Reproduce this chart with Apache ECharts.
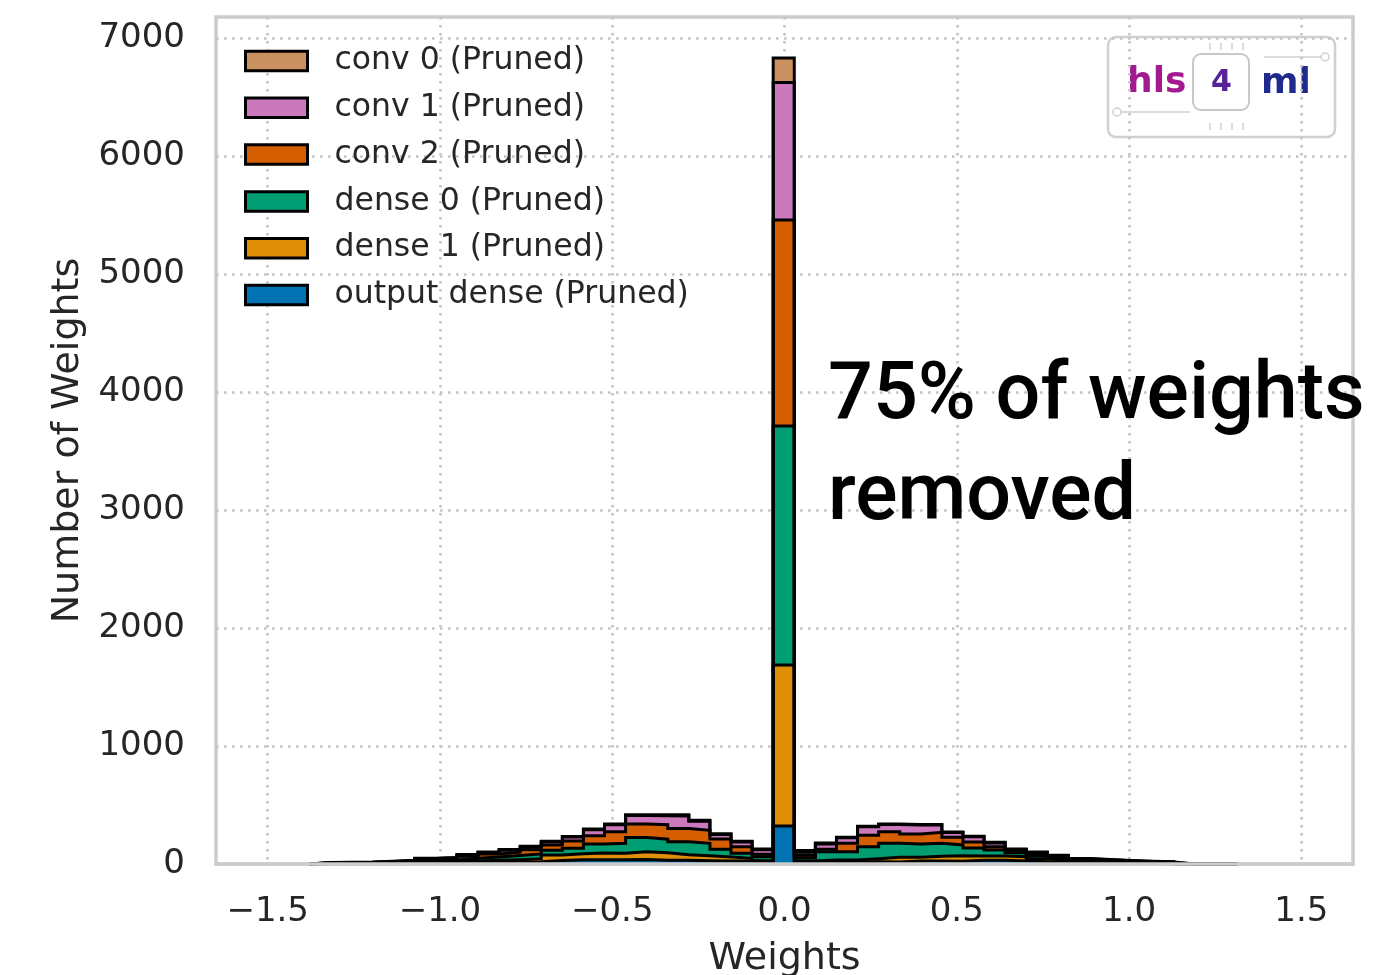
<!DOCTYPE html>
<html>
<head>
<meta charset="utf-8">
<script src="https://cdn.jsdelivr.net/npm/echarts@6/dist/echarts.min.js"></script>
<style>
html,body{margin:0;padding:0;background:#ffffff;}
#chart{width:1388px;height:975px;}
</style>
</head>
<body>
<div id="chart"></div>
<script>
// ---- data ----
const binEdges = [-1.3792, -1.3180, -1.2568, -1.1956, -1.1344, -1.0732, -1.0120, -0.9508, -0.8896, -0.8284,
  -0.7672, -0.7060, -0.6448, -0.5836, -0.5224, -0.4612, -0.4000, -0.3388, -0.2776, -0.2164,
  -0.1552, -0.0940, -0.0328, 0.0284, 0.0896, 0.1508, 0.2120, 0.2732, 0.3344, 0.3956,
  0.4568, 0.5180, 0.5792, 0.6404, 0.7016, 0.7628, 0.8240, 0.8852, 0.9464, 1.0076,
  1.0688, 1.1300, 1.1912, 1.2524, 1.3136];

const outputDense = [2,2,2,3,4,6,7,10,12,15,20,30,35,35,35,38,31,31,28,25,25,18,
  322,
  12,15,15,20,17,25,25,23,31,31,25,20,15,8,6,5,4,3,0,0,0];
const dense1 = [3,3,4,5,6,10,11,16,20,22,25,46,52,58,56,65,64,48,42,34,23,10,
  1364,
  13,19,19,25,40,32,40,47,37,37,37,25,15,10,8,6,5,4,0,1,0];
const dense0 = [3,4,4,6,8,13,15,22,28,35,40,40,46,76,84,121,115,109,105,65,43,34,
  2026,
  25,70,70,102,118,112,110,91,68,51,34,25,18,12,10,8,6,5,0,0,1];
const conv2 = [2,3,3,5,7,11,12,18,24,28,35,45,62,71,99,114,123,112,110,88,56,20,
  1746,
  25,21,71,96,99,85,93,65,50,28,14,15,12,8,7,5,4,4,0,1,0];
const conv1 = [1,1,2,3,4,6,7,10,13,16,22,25,33,50,58,72,75,106,77,38,39,38,
  1165,
  25,45,47,72,60,76,62,40,44,31,12,12,10,6,5,4,3,2,0,0,0];
const conv0 = [1,1,1,1,2,2,3,4,5,6,8,6,6,6,8,8,10,12,8,7,6,7,
  208,
  14,8,5,5,5,5,5,5,5,7,5,5,5,3,2,2,2,2,0,0,0];

const layerNames = ['output dense (Pruned)', 'dense 1 (Pruned)', 'dense 0 (Pruned)',
  'conv 2 (Pruned)', 'conv 1 (Pruned)', 'conv 0 (Pruned)'];
const xTickValues = [-1.5, -1.0, -0.5, 0.0, 0.5, 1.0, 1.5];
const yTickValues = [0, 1000, 2000, 3000, 4000, 5000, 6000, 7000];

// ---- styling ----
const layerColors = ['#0173b2', '#de8f05', '#029e73', '#d55e00', '#cc78bc', '#ca9161'];
const textColor = '#262626';
const gridLine = {color: '#c4c4c4', width: 2.6, type: [2.6, 5.4]};

const layers = [outputDense, dense1, dense0, conv2, conv1, conv0];
// stack cumulatively (bottom layer first)
const cum = [];
layers.forEach((arr, k) => {
  cum.push(arr.map((v, j) => v + (k ? cum[k - 1][j] : 0)));
});

const series = [];
for (let k = layers.length - 1; k >= 0; k--) {
  const pts = [[binEdges[0], 0]];
  cum[k].forEach((v, j) => pts.push([binEdges[j], v]));
  pts.push([binEdges[binEdges.length - 1], 0]);
  series.push({
    type: 'line',
    name: layerNames[k],
    step: 'end',
    data: pts,
    symbol: 'none',
    showSymbol: false,
    silent: true,
    animation: false,
    lineStyle: {color: '#000000', width: 3, join: 'miter'},
    areaStyle: {color: layerColors[k], opacity: 1},
    itemStyle: {color: layerColors[k]},
    z: 2
  });
}

const legendData = [];
for (let k = layers.length - 1; k >= 0; k--) {
  legendData.push({name: layerNames[k], itemStyle: {color: layerColors[k], borderColor: '#000000', borderWidth: 3}});
}

const fmtX = v => (v < 0 ? '\u2212' + Math.abs(v).toFixed(1) : v.toFixed(1));
const fmtY = v => String(Math.round(v));

const chart = echarts.init(document.getElementById('chart'), null, {renderer: 'canvas'});
chart.setOption({
  animation: false,
  backgroundColor: '#ffffff',
  textStyle: {fontFamily: 'DejaVu Sans'},
  grid: {left: 216, right: 35, top: 17, bottom: 111, show: true, borderColor: '#cccccc', borderWidth: 3.5,
    containLabel: false, outerBoundsMode: 'none'},
  legend: {
    orient: 'vertical', left: 239, top: 38, icon: 'rect',
    itemWidth: 62, itemHeight: 19.5, itemGap: 10.8,
    selectedMode: false,
    textStyle: {fontFamily: 'DejaVu Sans', fontSize: 31.5, color: textColor, lineHeight: 36, padding: [0, 0, 0, 22]},
    data: legendData
  },
  xAxis: [{
    type: 'value', min: -1.65, max: 1.65,
    name: 'Weights', nameLocation: 'middle', nameGap: 76,
    nameTextStyle: {fontFamily: 'DejaVu Sans', fontSize: 38, color: textColor},
    axisLine: {show: false},
    axisTick: {show: false, customValues: xTickValues},
    axisLabel: {customValues: xTickValues, formatter: fmtX, fontFamily: 'DejaVu Sans', fontSize: 34, color: textColor, margin: 31},
    splitLine: {show: true, lineStyle: gridLine}
  }, {
    type: 'value', min: -1.65, max: 1.65, position: 'bottom', z: 10,
    axisLine: {show: true, onZero: false, lineStyle: {color: '#cccccc', width: 3.5}},
    axisTick: {show: false}, axisLabel: {show: false}, splitLine: {show: false}
  }],
  yAxis: {
    type: 'value', min: 0, max: 7178,
    name: 'Number of Weights', nameLocation: 'middle', nameGap: 125,
    nameTextStyle: {fontFamily: 'DejaVu Sans', fontSize: 38, color: textColor},
    axisLine: {show: false},
    axisTick: {show: false, customValues: yTickValues},
    axisLabel: {customValues: yTickValues, formatter: fmtY, fontFamily: 'DejaVu Sans', fontSize: 34, color: textColor, margin: 31, padding: [4, 0, 0, 0]},
    splitLine: {show: true, lineStyle: gridLine}
  },
  series: series,
  graphic: [
    {type: 'text', x: 828, y: 398, z: 20, style: {text: '75% of weights', font: '500 79px Roboto', fill: '#000000', verticalAlign: 'middle'}},
    {type: 'text', x: 828, y: 499, z: 20, style: {text: 'removed', font: '500 79px Roboto', fill: '#000000', verticalAlign: 'middle'}},
    {type: 'group', z: 20, children: [
      {type: 'rect', shape: {x: 1108, y: 37, width: 227, height: 100, r: 8}, style: {fill: '#ffffff', stroke: '#d0d0d0', lineWidth: 2.5}},
      {type: 'rect', shape: {x: 1193, y: 54, width: 56, height: 56, r: 8}, style: {fill: 'none', stroke: '#c8c8c8', lineWidth: 2}},
      {type: 'line', shape: {x1: 1210, y1: 43, x2: 1210, y2: 50}, style: {stroke: '#cfcfcf', lineWidth: 1.5}},
      {type: 'line', shape: {x1: 1221, y1: 43, x2: 1221, y2: 50}, style: {stroke: '#cfcfcf', lineWidth: 1.5}},
      {type: 'line', shape: {x1: 1232, y1: 43, x2: 1232, y2: 50}, style: {stroke: '#cfcfcf', lineWidth: 1.5}},
      {type: 'line', shape: {x1: 1243, y1: 43, x2: 1243, y2: 50}, style: {stroke: '#cfcfcf', lineWidth: 1.5}},
      {type: 'line', shape: {x1: 1210, y1: 123, x2: 1210, y2: 130}, style: {stroke: '#cfcfcf', lineWidth: 1.5}},
      {type: 'line', shape: {x1: 1221, y1: 123, x2: 1221, y2: 130}, style: {stroke: '#cfcfcf', lineWidth: 1.5}},
      {type: 'line', shape: {x1: 1232, y1: 123, x2: 1232, y2: 130}, style: {stroke: '#cfcfcf', lineWidth: 1.5}},
      {type: 'line', shape: {x1: 1243, y1: 123, x2: 1243, y2: 130}, style: {stroke: '#cfcfcf', lineWidth: 1.5}},
      {type: 'line', shape: {x1: 1264, y1: 57, x2: 1321, y2: 57}, style: {stroke: '#d0d0d0', lineWidth: 1.5}},
      {type: 'circle', shape: {cx: 1325, cy: 57, r: 4}, style: {fill: '#ffffff', stroke: '#d0d0d0', lineWidth: 1.5}},
      {type: 'line', shape: {x1: 1121, y1: 112, x2: 1190, y2: 112}, style: {stroke: '#d0d0d0', lineWidth: 1.5}},
      {type: 'circle', shape: {cx: 1117, cy: 112, r: 4}, style: {fill: '#ffffff', stroke: '#d0d0d0', lineWidth: 1.5}},
      {type: 'text', x: 1127, y: 83, style: {text: 'hls', font: 'bold 36px "DejaVu Sans"', fill: '#a3198f', verticalAlign: 'middle'}},
      {type: 'text', x: 1211, y: 83, style: {text: '4', font: 'bold 30px "DejaVu Sans"', fill: '#5a2299', verticalAlign: 'middle'}},
      {type: 'text', x: 1261, y: 84, style: {text: 'ml', font: 'bold 36px "DejaVu Sans"', fill: '#1e2a8e', verticalAlign: 'middle'}}
    ]}
  ]
});
</script>
</body>
</html>
